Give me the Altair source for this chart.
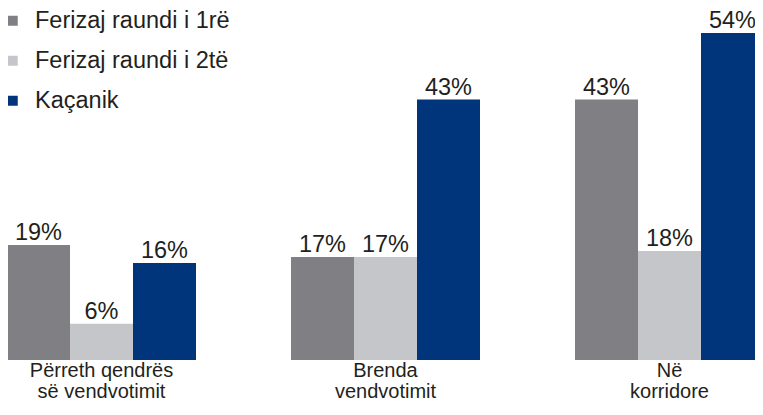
import altair as alt
import pandas as pd

categories = ["Përreth qendrës|së vendvotimit", "Brenda|vendvotimit", "Në|korridore"]
series = ["Ferizaj raundi i 1rë", "Ferizaj raundi i 2të", "Kaçanik"]
round1 = [19, 17, 43]
round2 = [6, 17, 18]
kacanik = [16, 43, 54]
colors = ["#808084", "#c4c6c9", "#00357c"]

rows = []
for s, vals in zip(series, [round1, round2, kacanik]):
    for c, v in zip(categories, vals):
        rows.append({"cat": c, "series": s, "value": v, "label": f"{v}%"})
df = pd.DataFrame(rows)

FONT = "Liberation Sans"
TXT = "#231f20"
FS = 23.5

base = alt.Chart(df).encode(
    x=alt.X(
        "cat:N",
        sort=categories,
        scale=alt.Scale(range=[-1, 756], paddingInner=0.3345, paddingOuter=0),
        axis=alt.Axis(
            title=None,
            labelExpr="split(datum.value, '|')",
            labelAngle=0,
            labelFont=FONT,
            labelFontSize=20,
            labelLineHeight=21,
            labelPadding=0,
            labelColor=TXT,
            labelLimit=400,
            ticks=False,
            domain=False,
            grid=False,
        ),
    ),
    xOffset=alt.XOffset("series:N", sort=series, scale=alt.Scale(paddingInner=0, paddingOuter=0)),
    y=alt.Y("value:Q", scale=alt.Scale(domain=[0, 58.13]), axis=None),
)

bars = base.mark_bar(opacity=1).encode(
    color=alt.Color(
        "series:N",
        sort=series,
        scale=alt.Scale(domain=series, range=colors),
        legend=alt.Legend(
            title=None,
            orient="none",
            legendX=-7,
            legendY=1,
            symbolType="square",
            symbolSize=100,
            symbolStrokeWidth=0,
            symbolOpacity=1,
            labelFont=FONT,
            labelFontSize=FS,
            labelColor=TXT,
            labelLimit=400,
            rowPadding=15,
            labelOffset=10.5,
        ),
    )
)

labels = base.mark_text(baseline="alphabetic", dy=-5, fontSize=FS, font=FONT, color=TXT).encode(
    text="label:N"
)

chart = (
    alt.layer(bars, labels)
    .properties(
        width=747,
        height=352,
        autosize=alt.AutoSizeParams(type="none"),
        padding={"left": 0, "top": 0, "right": 0, "bottom": 42},
        background="white",
    )
    .configure_view(stroke=None)
)

chart.save("out.html", embed_options={"renderer": "svg", "actions": False})
